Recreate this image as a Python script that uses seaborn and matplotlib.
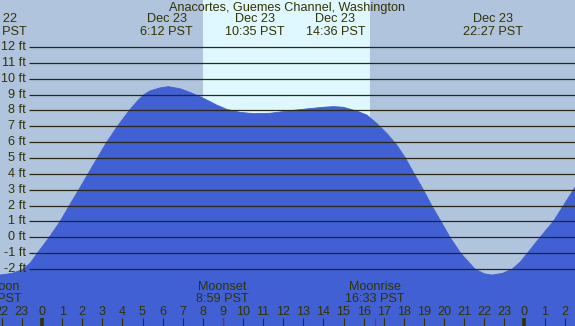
import matplotlib.pyplot as plt
import matplotlib.transforms as mtransforms
import pandas as pd
import seaborn as sns

# tide curve (hours from Dec 23 00:00 PST, feet)
tide_hours = [-2.3, -2.09, -1.5, -1.0, -0.6, -0.23, 0.36, 0.90, 1.36, 1.83, 2.29,
              2.75, 3.22, 3.75, 4.34, 4.75, 5.07, 5.37, 5.87, 6.28, 6.87, 7.36,
              8.03, 8.69, 9.19, 9.85, 10.51, 11.34, 12.34, 13.2, 14.0, 14.5,
              14.99, 15.66, 16.16, 16.65, 17.15, 17.65, 18.08, 18.52, 18.97,
              19.39, 19.85, 20.30, 20.83, 21.54, 22.0, 22.37, 22.9, 23.4, 23.8,
              24.15, 24.78, 25.44, 25.94, 26.44, 26.6]
tide_ft = [-2.4, -2.38, -2.28, -2.05, -1.65, -1.0, 0.0, 1.0, 2.0, 3.0, 4.0,
           5.0, 6.0, 7.0, 8.0, 8.6, 9.0, 9.23, 9.42, 9.5, 9.37, 9.14,
           8.77, 8.34, 8.07, 7.88, 7.8, 7.82, 7.98, 8.1, 8.2, 8.24,
           8.2, 7.96, 7.71, 7.19, 6.56, 5.82, 5.0, 4.0, 3.0,
           2.0, 1.0, 0.0, -1.0, -2.0, -2.3, -2.38, -2.28, -2.0, -1.55,
           -1.0, 0.0, 1.0, 2.0, 3.0, 3.3]

# high / low tide labels
event_hours = [-2.25, 6.2, 10.583, 14.6, 22.45]
event_dates = ["Dec 22", "Dec 23", "Dec 23", "Dec 23", "Dec 23"]
event_times = ["21:45 PST", "6:12 PST", "10:35 PST", "14:36 PST", "22:27 PST"]

# moon events
moon_hours = [-2.5, 8.983, 16.55]
moon_names = ["Full Moon", "Moonset", "Moonrise"]
moon_times = ["21:30 PST", "8:59 PST", "16:33 PST"]

sunrise_hour = 8.02
sunset_hour = 16.32

height_ticks = list(range(-2, 13))
height_labels = [f"{h} ft" for h in height_ticks]
hour_ticks = list(range(-2, 27))
hour_labels = ["22", "23", "0", "1", "2", "3", "4", "5", "6", "7", "8", "9", "10",
               "11", "12", "13", "14", "15", "16", "17", "18", "19", "20", "21",
               "22", "23", "0", "1", "2"]
midnight_hours = [0, 24]

night = "#b0c4de"
day = "#dff8ff"
water = "#4060d4"
ink = "#333300"
grid = "#29290f"
fs = 9.1
H = 326.0


def fy(px):
    # pixel row -> figure fraction
    return 1 - px / H


sns.set_style("white")
plt.rcParams["font.family"] = ["Liberation Sans", "DejaVu Sans"]

fig = plt.figure(figsize=(5.75, 3.26), dpi=100)
fig.patch.set_facecolor(night)
ax = fig.add_axes([0, 0, 1, 1])

df = pd.DataFrame({"hour": tide_hours, "ft": tide_ft})

ax.axvspan(sunrise_hour, sunset_hour, color=day, lw=0, zorder=0)
ax.fill_between(df["hour"], df["ft"], -6, color=water, lw=0, zorder=1)
sns.lineplot(data=df, x="hour", y="ft", ax=ax, color=water, lw=0.6, zorder=2)

ax.hlines(height_ticks, -0.65, 26.7, color=grid, lw=0.9, zorder=3)

ax.set_xlim(-2.09, 26.517)
ax.set_ylim(-5.594, 14.965)
ax.axis("off")

xfig = mtransforms.blended_transform_factory(ax.transData, fig.transFigure)
xaxes = mtransforms.blended_transform_factory(ax.transData, ax.transAxes)

for h, lab in zip(height_ticks, height_labels):
    ax.text(-0.8, h, lab, ha="right", va="center", fontsize=fs, color=ink, zorder=4)

ax.text(0.5, fy(8), "Anacortes, Guemes Channel, Washington", transform=fig.transFigure,
        ha="center", va="center", fontsize=fs, color=ink)

for h, d, t in zip(event_hours, event_dates, event_times):
    ax.text(h, fy(19.5), d, transform=xfig, ha="center", va="center", fontsize=fs, color=ink)
    ax.text(h, fy(31.7), t, transform=xfig, ha="center", va="center", fontsize=fs, color=ink)

for h, n, t in zip(moon_hours, moon_names, moon_times):
    ax.text(h, fy(287.3), n, transform=xfig, ha="center", va="center", fontsize=fs, color=ink)
    ax.text(h, fy(299.3), t, transform=xfig, ha="center", va="center", fontsize=fs, color=ink)

for h, lab in zip(hour_ticks, hour_labels):
    ax.text(h, fy(311.7), lab, transform=xfig, ha="center", va="center", fontsize=fs, color=ink)

tick_top = 1 - 318.3 / H
reg = [h for h in hour_ticks if h not in midnight_hours]
ax.vlines(reg, 0, tick_top, transform=xaxes, color=ink, lw=0.8, zorder=5)
ax.vlines(midnight_hours, 0, tick_top, transform=xaxes, color=ink, lw=2.6, zorder=5)
ax.vlines(moon_hours[1:], 0, tick_top, transform=xaxes, color="red", lw=0.8, zorder=5)

fig.savefig("out.png", dpi=100)
